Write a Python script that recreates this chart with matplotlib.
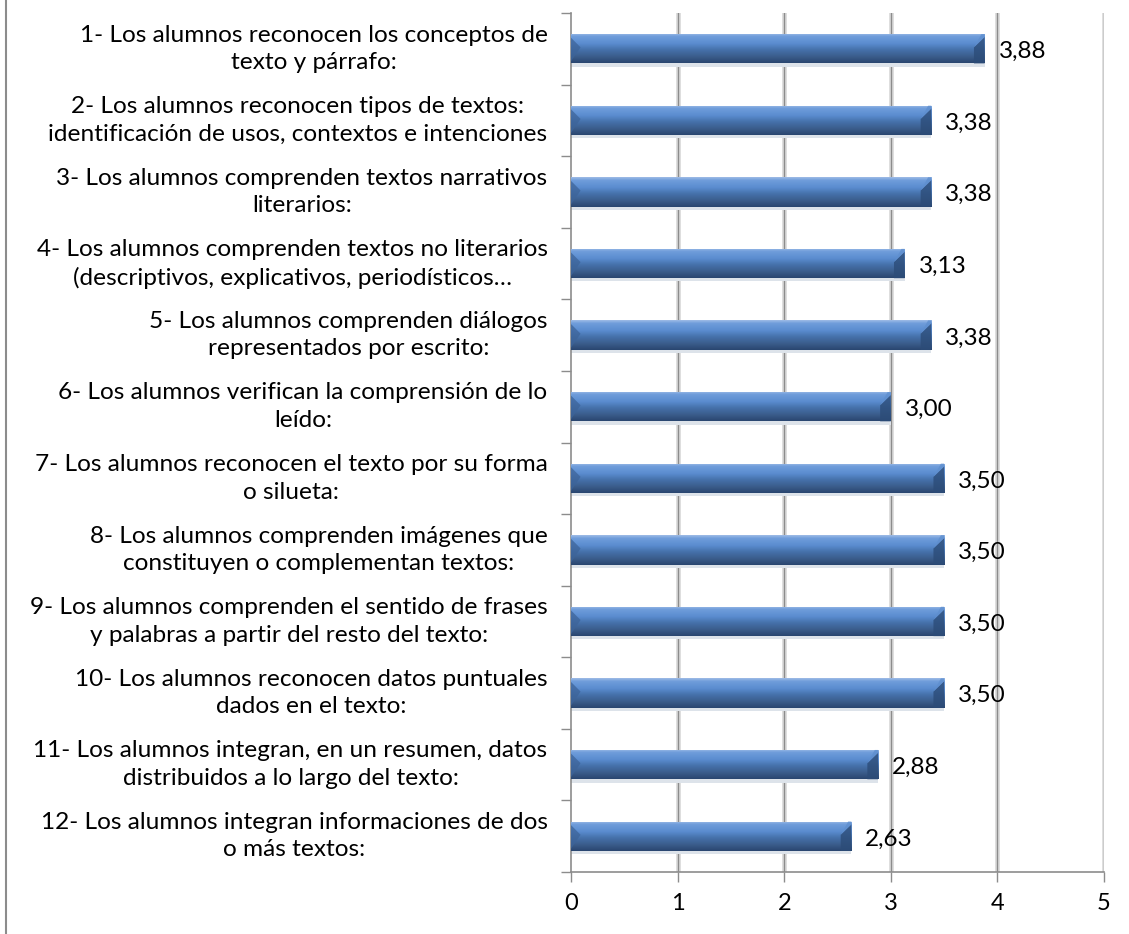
import matplotlib
matplotlib.use("Agg")
import matplotlib.pyplot as plt
import numpy as np
from matplotlib.colors import LinearSegmentedColormap
from matplotlib.lines import Line2D
from matplotlib.patches import Polygon

categories = [
    "1- Los alumnos reconocen los conceptos de\ntexto y párrafo:",
    "2- Los alumnos reconocen tipos de textos:\nidentificación de usos, contextos e intenciones",
    "3- Los alumnos comprenden textos narrativos\nliterarios:",
    "4- Los alumnos comprenden textos no literarios\n(descriptivos, explicativos, periodísticos…",
    "5- Los alumnos comprenden diálogos\nrepresentados por escrito:",
    "6- Los alumnos verifican la comprensión de lo\nleído:",
    "7- Los alumnos reconocen el texto por su forma\no silueta:",
    "8- Los alumnos comprenden imágenes que\nconstituyen o complementan textos:",
    "9- Los alumnos comprenden el sentido de frases\ny palabras a partir del resto del texto:",
    "10- Los alumnos reconocen datos puntuales\ndados en el texto:",
    "11- Los alumnos integran, en un resumen, datos\ndistribuidos a lo largo del texto:",
    "12- Los alumnos integran informaciones de dos\no más textos:",
]
values = [3.88, 3.38, 3.38, 3.13, 3.38, 3.00, 3.50, 3.50, 3.50, 3.50, 2.88, 2.63]
value_labels = ["3,88", "3,38", "3,38", "3,13", "3,38", "3,00", "3,50", "3,50", "3,50", "3,50", "2,88", "2,63"]
xticks = [0, 1, 2, 3, 4, 5]

plt.rcParams['font.family'] = ['Lato', 'DejaVu Sans']

fig = plt.figure(figsize=(11.29, 9.34), dpi=100)
W, H = 1129, 934
ax = fig.add_axes([571 / W, 1 - 872 / H, (1104 - 571) / W, (872 - 13) / H])

n = len(categories)
y = np.arange(n)
bar_h = 0.41

ax.set_xlim(0, 5)
ax.set_ylim(n - 0.5, -0.5)

# gridlines
for xv in xticks[1:]:
    ax.axvline(xv, color="#dcdcdc", lw=3.5, zorder=0.5)
    ax.axvline(xv, color="#8c8c8c", lw=1.0, zorder=0.6)

cmap = LinearSegmentedColormap.from_list(
    "bev", [(0.0, "#9dbbe6"), (0.1, "#6f9ddb"), (0.35, "#5a8ccf"), (0.55, "#4672ac"),
            (0.8, "#3a5c8a"), (1.0, "#2a4670")])
grad = np.linspace(0, 1, 64).reshape(-1, 1)

bars = ax.barh(y, values, height=bar_h, color="#4f81bd", edgecolor="none", zorder=2)
# soft shadow under bars
ax.barh(y + bar_h / 2 + 0.02, values, height=0.05, color="#dde3ea", edgecolor="none", zorder=1.5)

cap = 0.1
for b, v, yy in zip(bars, values, y):
    top, bot = yy - bar_h / 2, yy + bar_h / 2
    im = ax.imshow(grad, cmap=cmap, aspect="auto",
                   extent=[0, v, bot, top], zorder=3, interpolation="bilinear")
    im.set_clip_path(b)
    # left bevel triangle
    ax.add_patch(Polygon([(0, top + 0.05), (0, bot - 0.03), (cap * 0.9, yy - 0.02)],
                         closed=True, color="#3d6499", alpha=0.75, lw=0, zorder=4))
    # right end cap
    ax.add_patch(Polygon([(v - cap, yy - 0.02), (v, top + 0.04), (v, bot), (v - cap, bot)],
                         closed=True, color="#2c4c78", alpha=0.8, lw=0, zorder=4))
    ax.add_patch(Polygon([(v - cap, yy - 0.02), (v, top + 0.04), (v, top), (v - cap * 0.3, top)],
                         closed=True, color="#5f8fcf", alpha=0.8, lw=0, zorder=4))

for v, yy, lab in zip(values, y, value_labels):
    ax.annotate(lab, (v, yy), xytext=(10, -2), textcoords="offset points",
                ha="left", va="center", fontsize=17.5, color="black", zorder=5)

ax.set_xticks(xticks)
ax.set_xticklabels([str(t) for t in xticks], fontsize=17)
ax.set_yticks(np.arange(-0.5, n, 1.0))
ax.set_yticklabels([])
ax.tick_params(axis="y", length=7, color="#8c8c8c", width=1)
ax.tick_params(axis="x", length=7, color="#8c8c8c", width=1, pad=8)

for s in ["top", "right"]:
    ax.spines[s].set_visible(False)
for s in ["left", "bottom"]:
    ax.spines[s].set_color("#8c8c8c")
    ax.spines[s].set_linewidth(1.2)

for yy, cat in zip(y, categories):
    ax.text(-0.22, yy, cat, ha="right", va="center", multialignment="center",
            fontsize=17.6, transform=ax.transData, clip_on=False, linespacing=1.38)

fig.add_artist(Line2D([6 / W, 6 / W], [0, 1], transform=fig.transFigure, color="#8c8c8c", lw=1.5))

fig.savefig("out.png", dpi=100)
